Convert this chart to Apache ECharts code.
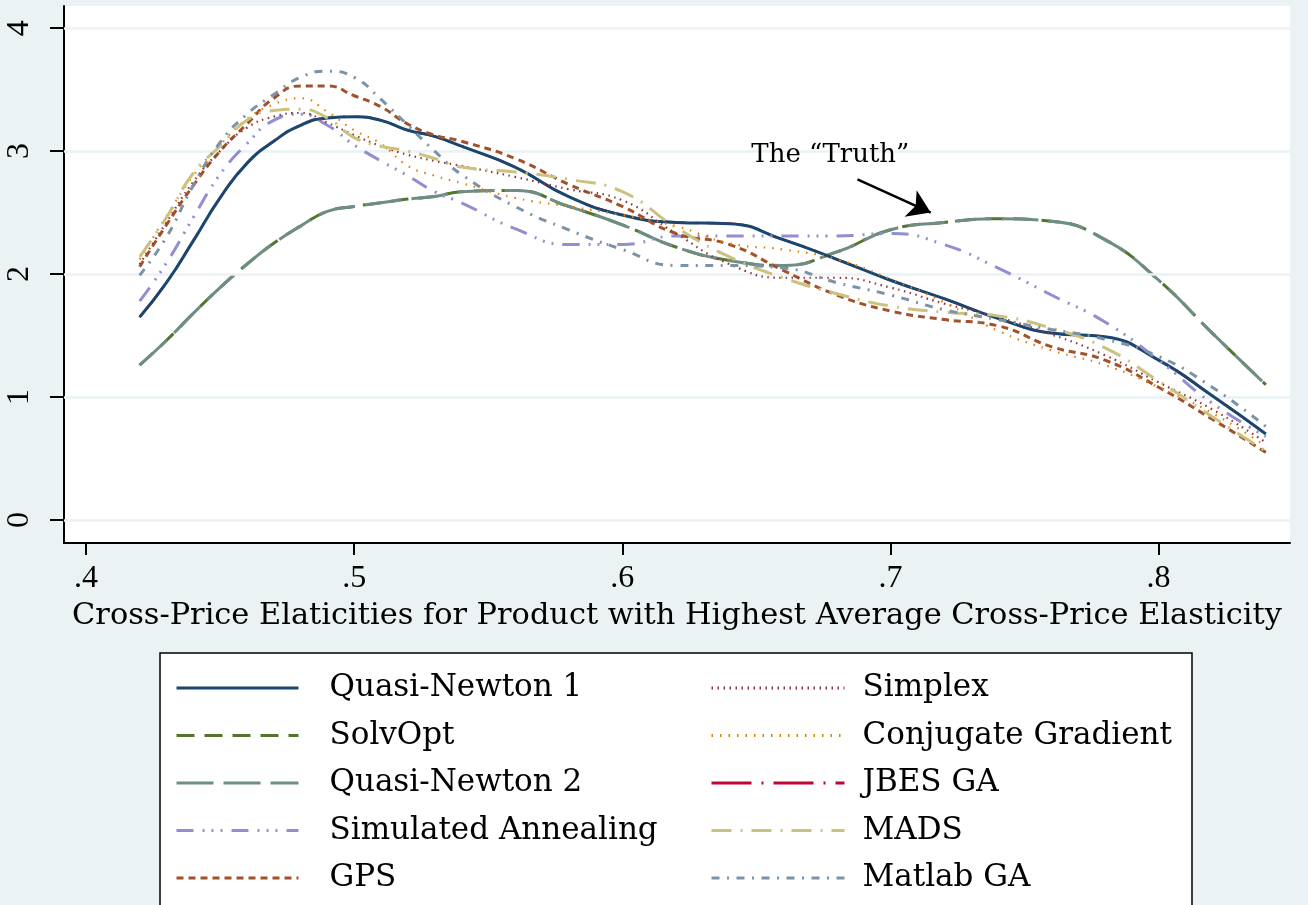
<!DOCTYPE html>
<html><head><meta charset="utf-8">
<script src="https://cdn.jsdelivr.net/npm/echarts@6/dist/echarts.min.js"></script>
<style>html,body{margin:0;padding:0;background:#eaf2f3;} #c{width:1308px;height:905px;}</style>
</head><body><div id="c"></div>
<script>
// ---- data ----
const xValues      = [0.42,0.43,0.44,0.45,0.46,0.47,0.48,0.49,0.50,0.51,0.52,0.53,0.54,0.56,0.58,0.60,0.62,0.64,0.66,0.68,0.70,0.72,0.74,0.76,0.78,0.80,0.82,0.84];
const quasiNewton1 = [1.65,1.93,2.27,2.62,2.90,3.08,3.21,3.27,3.28,3.25,3.17,3.12,3.04,2.87,2.63,2.48,2.42,2.41,2.28,2.12,1.95,1.80,1.64,1.52,1.49,1.30,1.01,0.70];
const solvOpt      = [1.26,1.46,1.68,1.89,2.08,2.25,2.39,2.51,2.55,2.58,2.61,2.63,2.67,2.68,2.55,2.40,2.22,2.11,2.07,2.18,2.36,2.42,2.45,2.43,2.28,1.95,1.52,1.10];
const quasiNewton2 = [1.26,1.46,1.68,1.89,2.08,2.25,2.39,2.51,2.55,2.58,2.61,2.63,2.67,2.68,2.55,2.40,2.22,2.11,2.07,2.18,2.36,2.42,2.45,2.43,2.28,1.95,1.52,1.10];
const simAnnealing = [1.78,2.09,2.46,2.81,3.06,3.25,3.30,3.21,3.05,2.92,2.80,2.67,2.58,2.37,2.24,2.24,2.31,2.31,2.31,2.31,2.33,2.24,2.05,1.83,1.61,1.30,0.95,0.68];
const gps          = [2.06,2.40,2.72,3.00,3.22,3.43,3.53,3.53,3.45,3.36,3.22,3.13,3.08,2.94,2.73,2.55,2.33,2.24,2.03,1.83,1.70,1.63,1.58,1.41,1.30,1.08,0.82,0.55];
const simplex      = [2.08,2.42,2.75,3.00,3.19,3.28,3.31,3.23,3.13,3.04,2.97,2.92,2.88,2.79,2.69,2.60,2.33,2.08,1.97,1.97,1.89,1.76,1.65,1.51,1.34,1.12,0.90,0.63];
const conjGradient = [2.12,2.47,2.80,3.05,3.26,3.38,3.43,3.32,3.17,3.06,2.88,2.80,2.74,2.62,2.55,2.48,2.39,2.25,2.20,2.12,1.96,1.77,1.54,1.38,1.26,1.08,0.87,0.60];
const jbesGA       = [1.65,1.93,2.27,2.62,2.90,3.08,3.21,3.27,3.28,3.25,3.17,3.12,3.04,2.87,2.63,2.48,2.42,2.41,2.28,2.12,1.95,1.80,1.64,1.52,1.49,1.30,1.01,0.70];
const mads         = [2.14,2.46,2.82,3.04,3.25,3.33,3.34,3.27,3.11,3.04,3.00,2.94,2.87,2.83,2.77,2.67,2.38,2.14,1.97,1.84,1.74,1.69,1.66,1.56,1.40,1.13,0.84,0.56];
const matlabGA     = [1.99,2.30,2.72,3.07,3.30,3.46,3.60,3.65,3.60,3.42,3.21,3.00,2.81,2.55,2.36,2.20,2.07,2.07,2.05,1.93,1.83,1.71,1.63,1.55,1.47,1.33,1.08,0.76];

const seriesNames = ['Quasi-Newton 1','SolvOpt','Quasi-Newton 2','Simulated Annealing','GPS','Simplex','Conjugate Gradient','JBES GA','MADS','Matlab GA'];
const seriesValues = [quasiNewton1, solvOpt, quasiNewton2, simAnnealing, gps, simplex, conjGradient, jbesGA, mads, matlabGA];

const xTicks = [0.4,0.5,0.6,0.7,0.8];
const yTicks = [0,1,2,3,4];
const xRange = [0.3918,0.849];
const yRange = [-0.187,4.18];
const xTitle = 'Cross-Price Elaticities for Product with Highest Average Cross-Price Elasticity';
const truthText = 'The \u201CTruth\u201D';
const truthLabelAt = [0.6776,2.97];
const arrowFrom = [0.6877,2.77];
const arrowTo = [0.7150,2.50];

// ---- styles ----
const FONT = 'Liberation Serif';
const FONT_WIDE = 'DejaVu Serif';
const styles = [
  {color:'#1a476f', width:3, type:'solid', z:5},
  {color:'#55752f', width:3, type:[18,10], z:3},
  {color:'#6e8e84', width:3, type:[37,10], z:4},
  {color:'#938dd2', width:3, type:[17,9,2,7,2,7,2,9], z:5},
  {color:'#a0522d', width:3, type:[7,5], z:5},
  {color:'#90353b', width:2.2, type:[1.5,4.5], z:5},
  {color:'#e37e00', width:2.2, type:[1.5,7], z:5},
  {color:'#c10534', width:2.4, type:[40,10,2,10], z:2},
  {color:'#cac27e', width:3, type:[20,9,2,9], z:5},
  {color:'#7b92a8', width:3, type:[8,7.5,2,7.5], z:5}
];

const series = seriesNames.map((name, i) => ({
  type:'line', name, smooth:0.5, symbol:'none', showSymbol:false, silent:true,
  z: styles[i].z,
  data: xValues.map((x, j) => [x, seriesValues[i][j]]),
  lineStyle:{color:styles[i].color, width:styles[i].width, type:styles[i].type, cap:'butt'},
  itemStyle:{color:styles[i].color}
}));

series.unshift({
  type:'line', name:'_grid', data:[], z:1, silent:true,
  markLine:{silent:true, symbol:['none','none'], label:{show:false}, animation:false,
    lineStyle:{color:'#eaf2f3', width:2.5, type:'solid'},
    data: yTicks.map(v => ({yAxis:v}))}
});
series.push({
  type:'line', name:'_annot', data:[], z:20, silent:true,
  markLine:{silent:true, symbol:['none','arrow'], symbolSize:22, label:{show:false}, animation:false,
    lineStyle:{color:'#000', width:2.5, type:'solid'},
    data:[[{coord:arrowFrom},{coord:arrowTo}]]},
  markPoint:{silent:true, animation:false, symbol:'rect', symbolSize:1, itemStyle:{color:'rgba(0,0,0,0)'},
    label:{show:true, position:'inside', formatter:truthText, fontFamily:FONT_WIDE, fontSize:26, color:'#000'},
    data:[{coord:truthLabelAt}]}
});

const legendText = (pad) => ({fontFamily:FONT_WIDE, fontSize:31, color:'#000', padding:[0,0,0,pad], lineHeight:32});
const legendBase = {orient:'vertical', top:672, z:10, padding:0, itemHeight:14, itemGap:15.5, selectedMode:false,
  lineStyle:{width:3}, itemStyle:{opacity:0, color:'rgba(0,0,0,0)', borderWidth:0}};

const chart = echarts.init(document.getElementById('c'), null, {renderer:'canvas'});
chart.setOption({
  animation:false,
  backgroundColor:'#eaf2f3',
  grid:{left:64, right:18, top:6, bottom:362, show:true, backgroundColor:'#fff', borderWidth:0},
  xAxis:{type:'value', min:xRange[0], max:xRange[1],
    axisLine:{show:true, onZero:false, lineStyle:{color:'#000', width:2}},
    axisTick:{show:true, length:12, lineStyle:{color:'#000', width:2}, customValues:xTicks},
    axisLabel:{customValues:xTicks, formatter:v => String(v).replace(/^0/, ''), fontFamily:FONT, fontSize:32, color:'#000', margin:20},
    splitLine:{show:false},
    name:xTitle, nameLocation:'middle', nameGap:58,
    nameTextStyle:{fontFamily:FONT_WIDE, fontSize:30.4, color:'#000'}},
  yAxis:{type:'value', min:yRange[0], max:yRange[1],
    axisLine:{show:true, onZero:false, lineStyle:{color:'#000', width:2}},
    axisTick:{show:true, length:14, lineStyle:{color:'#000', width:2}, customValues:yTicks},
    axisLabel:{customValues:yTicks, rotate:90, fontFamily:FONT, fontSize:32, color:'#000', margin:28},
    splitLine:{show:false}},
  graphic:[{type:'rect', z:0, shape:{x:160, y:653, width:1032, height:300}, style:{fill:'#fff', stroke:'#000', lineWidth:1.5}}],
  legend:[
    Object.assign({}, legendBase, {data:seriesNames.slice(0,5), left:175, itemWidth:122, textStyle:legendText(26)}),
    Object.assign({}, legendBase, {data:seriesNames.slice(5), left:710, itemWidth:133, textStyle:legendText(13)})
  ],
  series
});
</script></body></html>
